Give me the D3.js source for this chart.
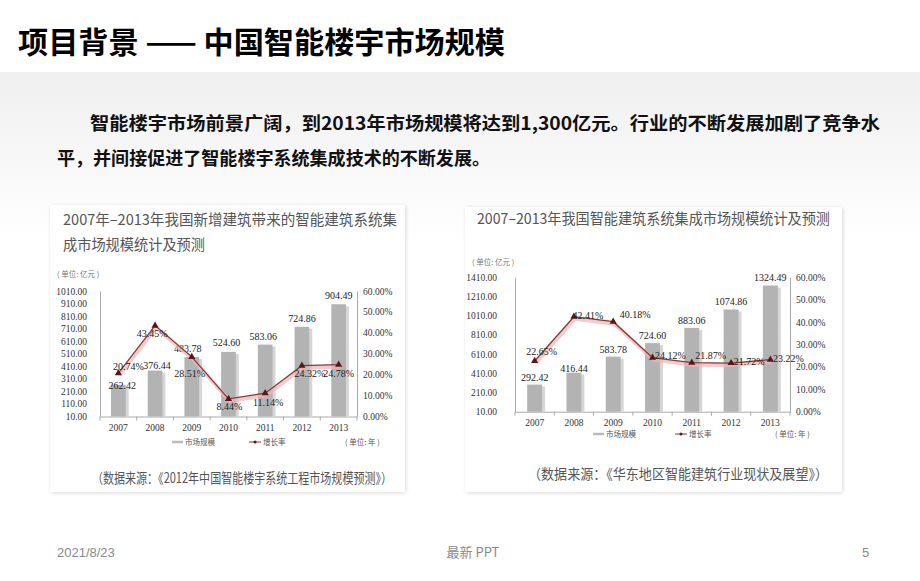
<!DOCTYPE html>
<html><head><meta charset="utf-8">
<script src="https://cdn.jsdelivr.net/npm/d3@7"></script>
<style>
html,body{margin:0;padding:0;background:#fff;}
svg{display:block;}
</style></head>
<body>
<svg id="c" width="920" height="581"></svg>
<script>
// ---------- data ----------
const years = ["2007","2008","2009","2010","2011","2012","2013"];
const leftMarket = [262.42, 376.44, 483.78, 524.60, 583.06, 724.86, 904.49];
const leftGrowth = [20.74, 43.45, 28.51, 8.44, 11.14, 24.32, 24.78];
const leftYTicks = [10,110,210,310,410,510,610,710,810,910,1010];
const rightMarket = [292.42, 416.44, 583.78, 724.60, 883.06, 1074.86, 1324.49];
const rightGrowth = [22.65, 42.41, 40.18, 24.12, 21.87, 21.72, 23.22];
const rightYTicks = [10,210,410,610,810,1010,1210,1410];
const pctTicks = [0,10,20,30,40,50,60];
const seriesNames = ["市场规模","增长率"];

// ---------- layout ----------
const svg = d3.select("#c");
const defs = svg.append("defs");
const bg = defs.append("linearGradient").attr("id","bg").attr("x1",0).attr("y1",0).attr("x2",0).attr("y2",1);
bg.append("stop").attr("offset","0%").attr("stop-color","#efefef");
bg.append("stop").attr("offset","100%").attr("stop-color","#ffffff");
const sh = defs.append("filter").attr("id","sh").attr("x","-5%").attr("y","-5%").attr("width","110%").attr("height","110%");
sh.append("feGaussianBlur").attr("in","SourceAlpha").attr("stdDeviation",2);
sh.append("feOffset").attr("dx",1).attr("dy",1).attr("result","b");
sh.append("feComponentTransfer").append("feFuncA").attr("type","linear").attr("slope",0.15);
const m = sh.append("feMerge"); m.append("feMergeNode"); m.append("feMergeNode").attr("in","SourceGraphic");

svg.append("rect").attr("x",0).attr("y",0).attr("width",920).attr("height",581).attr("fill","#fff");
svg.append("rect").attr("x",0).attr("y",72).attr("width",920).attr("height",170).attr("fill","url(#bg)");

const cjk = "'Noto Sans CJK SC','Noto Sans',sans-serif";
const serif = "'Liberation Serif','DejaVu Serif',serif";

svg.append("text").attr("x",18).attr("y",53).attr("font-family",cjk).attr("font-weight",700)
  .attr("font-size",30).attr("fill","#000").attr("textLength",487).attr("lengthAdjust","spacingAndGlyphs")
  .text("项目背景 —— 中国智能楼宇市场规模");

svg.append("text").attr("x",90).attr("y",130).attr("font-family",cjk).attr("font-weight",700)
  .attr("font-size",18).attr("fill","#111").attr("textLength",790).attr("lengthAdjust","spacingAndGlyphs")
  .text("智能楼宇市场前景广阔，到2013年市场规模将达到1,300亿元。行业的不断发展加剧了竞争水");
svg.append("text").attr("x",57).attr("y",165).attr("font-family",cjk).attr("font-weight",700)
  .attr("font-size",18).attr("fill","#111").attr("textLength",433).attr("lengthAdjust","spacingAndGlyphs")
  .text("平，并间接促进了智能楼宇系统集成技术的不断发展。");

// footer
const foot = svg.append("g").attr("font-family","'Liberation Sans',Arial,sans-serif").attr("font-size",13).attr("fill","#8a8a8a");
foot.append("text").attr("x",57).attr("y",557).text("2021/8/23");
foot.append("text").attr("x",473).attr("y",557).attr("text-anchor","middle").attr("font-family",cjk).text("最新  PPT");
foot.append("text").attr("x",862).attr("y",557).text("5");

function drawChart(o){
  const g = svg.append("g");
  g.append("rect").attr("x",o.panel[0]).attr("y",o.panel[1]).attr("width",o.panel[2]).attr("height",o.panel[3])
    .attr("fill","#fff").attr("filter","url(#sh)");
  o.titles.forEach((t,i)=>{
    g.append("text").attr("x",o.titleX).attr("y",o.titleY+i*25).attr("font-family",cjk)
      .attr("font-size",15).attr("fill","#555").attr("textLength",t[1]).attr("lengthAdjust","spacingAndGlyphs").text(t[0]);
  });
  g.append("text").attr("x",o.unitX).attr("y",o.unitY).attr("font-family",cjk).attr("font-size",7.5).attr("fill","#777").text("( 单位: 亿元 )");

  const x = d3.scaleBand().domain(years).range(o.xr).paddingInner(o.pad).paddingOuter(o.pad/2);
  const y = d3.scaleLinear().domain([o.yTicks[0], o.yTicks[o.yTicks.length-1]]).range(o.yr);
  const y2 = d3.scaleLinear().domain([0,60]).range(o.yr);

  // axes
  const ax = g.append("g").attr("transform",`translate(${o.xr[0]},0)`)
    .call(d3.axisLeft(y).tickValues(o.yTicks).tickFormat(d3.format(".2f")).tickSize(0).tickPadding(o.tp));
  const ax2 = g.append("g").attr("transform",`translate(${o.xr[1]},0)`)
    .call(d3.axisRight(y2).tickValues(pctTicks).tickFormat(d=>d.toFixed(2)+"%").tickSize(0).tickPadding(6));
  const axb = g.append("g").attr("transform",`translate(0,${o.yr[0]})`)
    .call(d3.axisBottom(x).tickSize(0).tickPadding(8));
  [ax,ax2,axb].forEach(a=>{
    a.select(".domain").attr("stroke","#aaa").attr("stroke-width",1);
    a.selectAll("text").attr("font-family",serif).attr("font-size",9.5).attr("fill","#333");
  });
  // category separator ticks on bottom axis
  const step = x.step();
  g.selectAll(".sep").data(d3.range(years.length+1)).join("line")
    .attr("x1",i=>o.xr[0]+i*step).attr("x2",i=>o.xr[0]+i*step)
    .attr("y1",o.yr[0]).attr("y2",o.yr[0]+4).attr("stroke","#aaa");

  // bars (shadow + bar)
  g.selectAll(".bs").data(o.market).join("rect")
    .attr("x",(d,i)=>x(years[i])+3).attr("y",d=>y(d)+2).attr("width",x.bandwidth()).attr("height",d=>o.yr[0]-y(d)-2)
    .attr("fill","#d6d6d6");
  g.selectAll(".b").data(o.market).join("rect")
    .attr("x",(d,i)=>x(years[i])).attr("y",d=>y(d)).attr("width",x.bandwidth()).attr("height",d=>o.yr[0]-y(d))
    .attr("fill","#b3b3b3");

  const cx = i=>x(years[i])+x.bandwidth()/2;
  // bar labels
  g.selectAll(".bl").data(o.market).join("text")
    .attr("x",(d,i)=>cx(i)+o.barLabelDx[i]).attr("y",(d,i)=>y(d)+o.barLabelDy[i]).attr("text-anchor","middle")
    .attr("font-family",serif).attr("font-size",10).attr("fill","#222").text(d=>d.toFixed(2));

  // line with shadow
  const line = d3.line().x((d,i)=>cx(i)).y(d=>y2(d));
  g.append("path").datum(o.growth).attr("d",line).attr("fill","none").attr("stroke","#e8b8b8").attr("stroke-width",4).attr("transform","translate(1,2)").attr("opacity",0.7);
  g.append("path").datum(o.growth).attr("d",line).attr("fill","none").attr("stroke","#8c3535").attr("stroke-width",1.3);
  g.selectAll(".pt").data(o.growth).join("path")
    .attr("d",d3.symbol().type(d3.symbolTriangle).size(22)())
    .attr("transform",(d,i)=>`translate(${cx(i)},${y2(d)})`).attr("fill","#5a1616");
  g.selectAll(".gl").data(o.growth).join("text")
    .attr("x",(d,i)=>cx(i)+o.rateDx[i]).attr("y",(d,i)=>y2(d)+o.rateDy[i]).attr("text-anchor","middle").attr("dominant-baseline","middle")
    .attr("font-family",serif).attr("font-size",10).attr("fill","#222").text(d=>d.toFixed(2)+"%");

  // legend
  const lg = g.append("g").attr("font-family",cjk).attr("font-size",7.5).attr("fill","#555");
  lg.append("line").attr("x1",o.leg[0]).attr("x2",o.leg[0]+11).attr("y1",o.legY).attr("y2",o.legY).attr("stroke","#bbb").attr("stroke-width",2.5);
  lg.append("text").attr("x",o.leg[0]+13).attr("y",o.legY+3).text(seriesNames[0]);
  lg.append("line").attr("x1",o.leg[1]).attr("x2",o.leg[1]+12).attr("y1",o.legY).attr("y2",o.legY).attr("stroke","#8c3535").attr("stroke-width",1);
  lg.append("circle").attr("cx",o.leg[1]+6).attr("cy",o.legY).attr("r",1.5).attr("fill","#5a1616");
  lg.append("text").attr("x",o.leg[1]+14).attr("y",o.legY+3).text(seriesNames[1]);
  lg.append("text").attr("x",o.yearUnitX).attr("y",o.legY+3).text("( 单位:  年 )");

  g.append("text").attr("x",o.srcX).attr("y",o.srcY).attr("font-family",cjk).attr("font-size",14).attr("fill","#555")
    .attr("textLength",o.srcW).attr("lengthAdjust","spacingAndGlyphs").text(o.src);
}

drawChart({
  panel:[50,205,355,287],
  titles:[["2007年–2013年我国新增建筑带来的智能建筑系统集",334],["成市场规模统计及预测",142]],
  titleX:63, titleY:225, unitX:57, unitY:277,
  xr:[100,357], yr:[416.5,291], pad:0.6, tp:13,
  market:leftMarket, growth:leftGrowth, yTicks:leftYTicks,
  barLabelDx:[4,2,-4,-2,-2,0,0], barLabelDy:[4,-2,-5,-6,-5,-5,-5],
  rateDx:[10,-3,-2,1,3,8,0], rateDy:[-5,9,18,9,11,9,10],
  leg:[172,249], legY:442, yearUnitX:345,
  src:"（数据来源：《2012年中国智能楼宇系统工程市场规模预测》）", srcX:92, srcY:483, srcW:300
});
drawChart({
  panel:[465,207,377,285],
  titles:[["2007–2013年我国智能建筑系统集成市场规模统计及预测",353]],
  titleX:477, titleY:224, unitX:472, unitY:265,
  xr:[515,790], yr:[411.7,277.3], pad:0.62, tp:18,
  market:rightMarket, growth:rightGrowth, yTicks:rightYTicks,
  barLabelDx:[0,0,0,0,0,0,0], barLabelDy:[-4,-1,-4,-4,-4,-4,-5],
  rateDx:[7,14,22,18,19,18,18], rateDy:[-8,0,-6,-1,-6,0,0],
  leg:[593,675], legY:434, yearUnitX:775,
  src:"（数据来源：《华东地区智能建筑行业现状及展望》）", srcX:528, srcY:479, srcW:300
});
</script>
</body></html>
